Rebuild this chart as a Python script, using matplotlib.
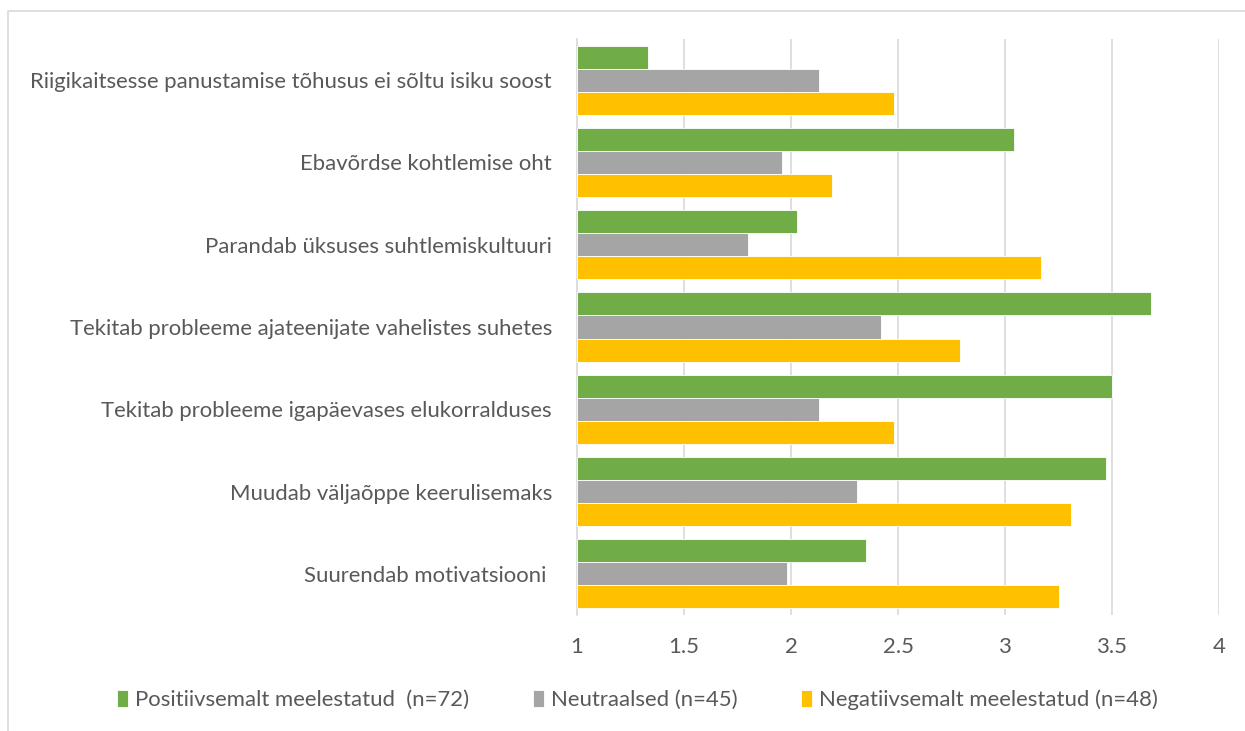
import matplotlib.pyplot as plt
import numpy as np
from matplotlib.patches import Rectangle

categories = [
    "Riigikaitsesse panustamise tõhusus ei sõltu isiku soost",
    "Ebavõrdse kohtlemise oht",
    "Parandab üksuses suhtlemiskultuuri",
    "Tekitab probleeme ajateenijate vahelistes suhetes",
    "Tekitab probleeme igapäevases elukorralduses",
    "Muudab väljaõppe keerulisemaks",
    "Suurendab motivatsiooni ",
]
positive = [1.33, 3.04, 2.03, 3.68, 3.50, 3.47, 2.35]
neutral = [2.13, 1.96, 1.80, 2.42, 2.13, 2.31, 1.98]
negative = [2.48, 2.19, 3.17, 2.79, 2.48, 3.31, 3.25]
series_names = [
    "Positiivsemalt meelestatud  (n=72)",
    "Neutraalsed (n=45)",
    "Negatiivsemalt meelestatud (n=48)",
]
colors = ["#70AD47", "#A5A5A5", "#FFC000"]
x_ticks = [1, 1.5, 2, 2.5, 3, 3.5, 4]

plt.rcParams["font.family"] = ["Lato", "DejaVu Sans"]
text_color = "#595959"
fs = 15.9

fig = plt.figure(figsize=(12.45, 7.31), dpi=100)
ax = fig.add_axes([577 / 1245, 1 - 615 / 731, (1219 - 577) / 1245, (615 - 39) / 731])

# outer chart border (Excel chart area)
fig.patches.append(Rectangle((8 / 1245, -0.05), 1.2, 1 - 11 / 731 + 0.05,
                             transform=fig.transFigure, fill=False,
                             edgecolor="#d9d9d9", linewidth=1.2))

y = np.arange(len(categories))
h = 0.28
for i, (vals, name) in enumerate(zip([positive, neutral, negative], series_names)):
    ax.barh(y + (i - 1) * h, np.array(vals) - 1, left=1, height=h,
            color=colors[i], edgecolor="white", linewidth=0.6, label=name, zorder=3)

ax.set_xlim(1, 4)
ax.set_ylim(len(categories) - 0.5, -0.5)
ax.set_xticks(x_ticks)
ax.set_xticklabels([f"{t:g}" for t in x_ticks])
ax.set_yticks(y)
ax.set_yticklabels(categories)
ax.tick_params(axis="both", length=0, colors=text_color, labelsize=fs)
ax.tick_params(axis="y", pad=18)
ax.tick_params(axis="x", pad=16)
ax.grid(axis="x", color="#d9d9d9", linewidth=1.2, zorder=0)
for s in ["top", "right", "bottom"]:
    ax.spines[s].set_visible(False)
ax.spines["left"].set_color("#d9d9d9")
ax.spines["left"].set_linewidth(1.2)

fig.legend(loc="center", bbox_to_anchor=(0.512, 1 - 700 / 731), ncol=3,
           frameon=False, fontsize=fs, labelcolor=text_color,
           handlelength=0.5, handleheight=0.8, handletextpad=0.3,
           columnspacing=2.9)

fig.savefig("out.png", dpi=100)
